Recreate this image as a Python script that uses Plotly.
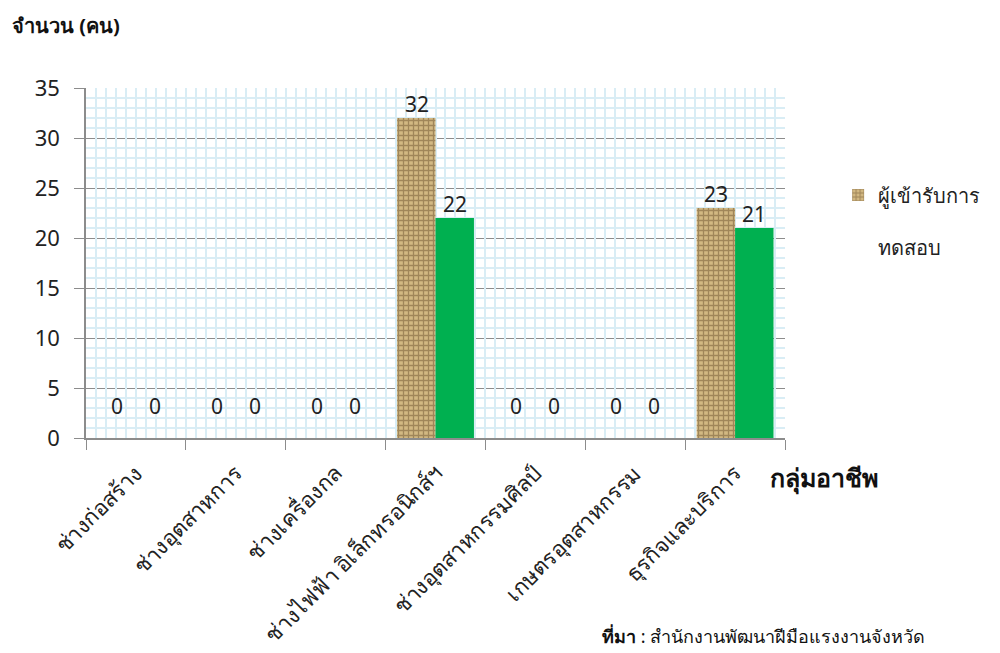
"""Bar chart of test participants by occupational group."""

import plotly.graph_objects as go

categories = [
    "ช่างก่อสร้าง",
    "ช่างอุตสาหการ",
    "ช่างเครื่องกล",
    "ช่างไฟฟ้า อิเล็กทรอนิกส์ฯ",
    "ช่างอุตสาหกรรมศิลป์",
    "เกษตรอุตสาหกรรม",
    "ธุรกิจและบริการ",
]
tested = [0, 0, 0, 32, 0, 0, 23]
passed = [0, 0, 0, 22, 0, 0, 21]

FONT = "Noto Sans, sans-serif"

fig = go.Figure()

# Textured bars (burlap look) for participants
fig.add_trace(go.Bar(
    x=categories,
    y=tested,
    name="ผู้เข้ารับการ<br><br>ทดสอบ",
    marker=dict(
        color="#c9ad74",
        line=dict(width=0),
        pattern=dict(shape="+", fgcolor="#6e5330", bgcolor="#d2b882",
                     size=5, solidity=0.45, fillmode="overlay"),
    ),
))

# Green bars for the second series
fig.add_trace(go.Bar(
    x=categories,
    y=passed,
    name="ผู้ผ่านการทดสอบ",
    marker=dict(color="#00b050", line=dict(width=0)),
    showlegend=False,
))

# Value labels above each bar
for series, shift in ((tested, -19), (passed, 19)):
    for cat, v in zip(categories, series):
        fig.add_annotation(
            x=cat, y=v, text=str(v), showarrow=False,
            xshift=shift, yshift=14 if v else 32,
            font=dict(size=21, color="#222222", family=FONT),
        )

# Hidden linear axis used only to draw the fine light-blue grid
fig.add_trace(go.Scatter(x=[-0.5, 6.5], y=[0, 0], xaxis="x2", mode="lines",
                         line=dict(width=0), showlegend=False, hoverinfo="skip"))

fig.add_annotation(x=-0.109, y=1.18, xref="paper", yref="paper", xanchor="left",
                   yanchor="middle", showarrow=False, text="<b>จำนวน (คน)</b>",
                   font=dict(size=20, color="#111111", family=FONT))
fig.add_annotation(x=0.976, y=-0.114, xref="paper", yref="paper", xanchor="left",
                   yanchor="middle", showarrow=False, text="<b>กลุ่มอาชีพ</b>",
                   font=dict(size=25, color="#111111", family=FONT))
fig.add_annotation(x=0.735, y=-0.566, xref="paper", yref="paper", xanchor="left",
                   yanchor="middle", showarrow=False,
                   text="<b>ที่มา</b> : สำนักงานพัฒนาฝีมือแรงงานจังหวัด",
                   font=dict(size=18, color="#111111", family=FONT))

fig.update_layout(
    width=1000,
    height=653,
    margin=dict(l=78, r=223, t=80, b=223),
    barmode="group",
    bargap=0.23,
    bargroupgap=0,
    plot_bgcolor="white",
    paper_bgcolor="white",
    font=dict(family=FONT, size=18, color="#222222"),
    legend=dict(x=1.076, y=0.75, xanchor="left", yanchor="top", valign="top",
                font=dict(size=20, color="#222222"), tracegroupgap=0),
    xaxis=dict(
        type="category",
        tickson="boundaries",
        ticks="outside",
        ticklen=10,
        tickcolor="#8c8c8c",
        showgrid=False,
        showline=True,
        linecolor="#8c8c8c",
        linewidth=1.5,
        tickangle=-45,
        ticklabelstandoff=12,
        tickfont=dict(size=22, color="#222222"),
    ),
    xaxis2=dict(
        overlaying="x",
        range=[-0.5, 6.5],
        dtick=0.1,
        showgrid=True,
        gridcolor="#d9edf5",
        gridwidth=2,
        showticklabels=False,
        ticks="",
        zeroline=False,
        showline=False,
    ),
    yaxis=dict(
        range=[0, 35],
        dtick=5,
        ticks="outside",
        ticklen=10,
        tickcolor="#8c8c8c",
        showline=True,
        linecolor="#8c8c8c",
        linewidth=1.5,
        gridcolor="#8c8c8c",
        gridwidth=1,
        zeroline=False,
        ticklabelstandoff=10,
        tickfont=dict(size=22, color="#222222"),
        minor=dict(dtick=1, showgrid=True, gridcolor="#d9edf5", gridwidth=2),
    ),
)

fig.write_html("out.html")
